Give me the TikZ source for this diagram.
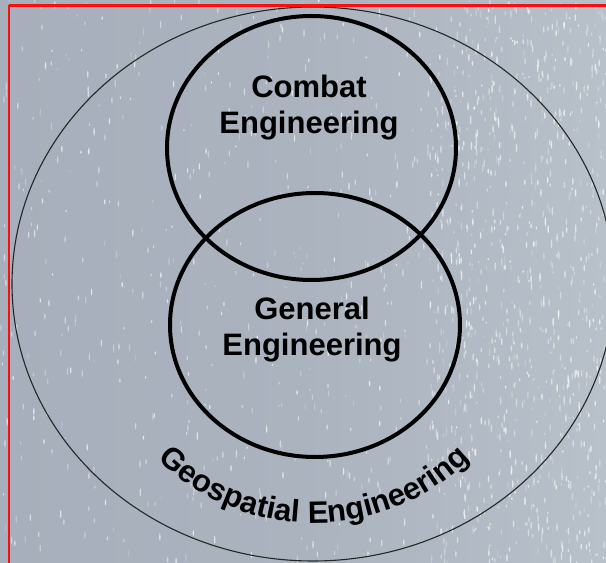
\documentclass[tikz,border=0pt]{standalone}
\usepackage{fontspec}
\setmainfont{Liberation Sans}
\usetikzlibrary{shapes.geometric,decorations.text}

\definecolor{bgmain}{RGB}{166,175,187}
\definecolor{bgmid}{RGB}{170,179,190}
\definecolor{bglight}{RGB}{184,193,202}
\definecolor{framered}{RGB}{250,15,15}

\newcommand{\geofont}{\bfseries\fontsize{31}{33}\selectfont}

\tikzset{
  vennring/.style={draw=black, line width=4pt, ellipse, inner sep=0pt, outer sep=0pt},
  outerring/.style={draw=black!85, line width=1.1pt, ellipse, inner sep=0pt, outer sep=0pt},
  ringlabel/.style={font=\bfseries\fontsize{31}{36}\selectfont, align=center,
                    anchor=north, inner sep=0pt, text=black},
  speck/.style={fill=white},
  frameedge/.style={draw=framered, line width=2.2pt},
}

\begin{document}
\begin{tikzpicture}[x=1pt, y=1pt]
  \useasboundingbox (0,0) rectangle (606,563);

  % textured grey-blue backdrop
  \shade[left color=bgmain, right color=bglight, middle color=bgmid] (0,0) rectangle (606,563);
  \pgfmathsetseed{42}
  \foreach \k in {1,...,700}{
    \pgfmathsetmacro{\sx}{606*rnd}
    \pgfmathsetmacro{\sy}{563*rnd}
    \pgfmathsetmacro{\sl}{1.2+3*rnd}
    \pgfmathsetmacro{\so}{0.15+0.55*rnd}
    \fill[speck, opacity=\so] (\sx,\sy) ellipse [x radius=0.75, y radius=\sl];
  }
  \foreach \k in {1,...,800}{
    \pgfmathsetmacro{\sx}{430+176*rnd}
    \pgfmathsetmacro{\sy}{563*rnd}
    \pgfmathsetmacro{\sl}{1.2+3.5*rnd}
    \pgfmathsetmacro{\so}{0.15+0.55*rnd}
    \fill[speck, opacity=\so] (\sx,\sy) ellipse [x radius=0.8, y radius=\sl];
  }

  % rings
  \node[outerring, minimum width=602pt, minimum height=554pt] (geospatial) at (313,279) {};
  \node[vennring, minimum width=289pt, minimum height=264pt] (combat) at (311.5,415) {};
  \node[vennring, minimum width=290pt, minimum height=264pt] (general) at (315,238) {};

  % labels
  \node[ringlabel] (combatlbl) at (309,488.5) {Combat\\Engineering};
  \node[ringlabel] (generallbl) at (312,266) {General\\Engineering};

  % curved label along the lower part of the outer ring
  \coordinate (arccentre) at (314,262);
  \path[decorate, decoration={text along path, text align=center,
        text={|\geofont|Geospatial Engineering}}]
    (arccentre) ++(210:222) arc[start angle=210, end angle=330, radius=222];

  % red frame edges along the left and top
  \coordinate (framebl) at (8.7,0);
  \coordinate (frametl) at (8.7,557.5);
  \coordinate (frametr) at (606,557.5);
  \draw[frameedge] (framebl) -- (frametl);
  \draw[frameedge] (frametl) -- (frametr);
\end{tikzpicture}
\end{document}
